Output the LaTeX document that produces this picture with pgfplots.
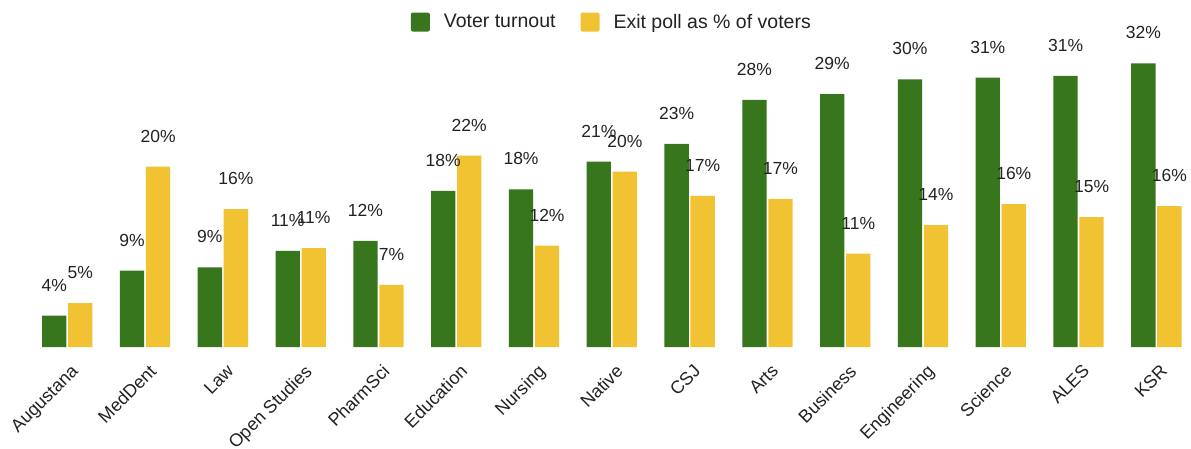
\documentclass[border=0pt]{standalone}
\usepackage{pgfplots}
\pgfplotsset{compat=1.18}
\usepackage{fontspec}
\setmainfont{Liberation Sans}
\definecolor{vgreen}{HTML}{38761D}
\definecolor{vyellow}{HTML}{F1C232}
\definecolor{txt}{HTML}{222222}
\begin{document}
\begin{tikzpicture}
\begin{axis}[
  x=77.79pt, y=8.8pt,
  xmin=-0.5, xmax=14.5, ymin=0, ymax=36.93,
  enlargelimits=false,
  clip=false,
  ybar=1.7pt, bar width=24.3pt,
  axis line style={draw=none},
  tick style={draw=none},
  ytick=\empty,
  xtick={0,...,14},
  xticklabels={Augustana,MedDent,Law,Open Studies,PharmSci,Education,Nursing,Native,CSJ,Arts,Business,Engineering,Science,ALES,KSR},
  xticklabel style={font=\fontsize{18}{21}\selectfont, text=txt, inner sep=0pt, xshift=3pt, yshift=-12pt, rotate=45, anchor=north east},
  nodes near coords={\pgfmathprintnumber[fixed,precision=0,assume math mode=true]{\pgfplotspointmeta}\%},
  nodes near coords style={font=\fontsize{17.5}{20}\selectfont, text=txt, anchor=base, inner sep=0pt, yshift=24.5pt},
  legend style={at={(0.5,1)}, anchor=center, draw=none, fill=none, legend columns=2,
    font=\fontsize{19.5}{22}\selectfont, text=txt,
    /tikz/every odd column/.append style={column sep=12pt},
    /tikz/every even column/.append style={column sep=23pt}},
  legend image code/.code={\fill[#1, rounded corners=2pt] (0pt,-9.5pt) rectangle (19pt,9.5pt);},
]
\addplot[fill=vgreen, draw=none] coordinates {
(0,3.56) (1,8.67) (2,9.06) (3,10.91) (4,12.05) (5,17.73) (6,17.92) (7,21.06)
(8,23.07) (9,28.07) (10,28.75) (11,30.42) (12,30.6) (13,30.8) (14,32.24)};
\addplot[fill=vyellow, draw=none] coordinates {
(0,5.0) (1,20.49) (2,15.68) (3,11.25) (4,7.05) (5,21.74) (6,11.51) (7,19.92)
(8,17.16) (9,16.82) (10,10.6) (11,13.86) (12,16.25) (13,14.77) (14,16.02)};
\legend{Voter turnout, Exit poll as \% of voters}
\coordinate (bbll) at (axis cs:-0.8652,-11.477);
\coordinate (bbur) at (axis cs:14.4452,39.432);
\end{axis}
\pgfresetboundingbox
\path[use as bounding box] (bbll) rectangle (bbur);
\end{tikzpicture}
\end{document}
